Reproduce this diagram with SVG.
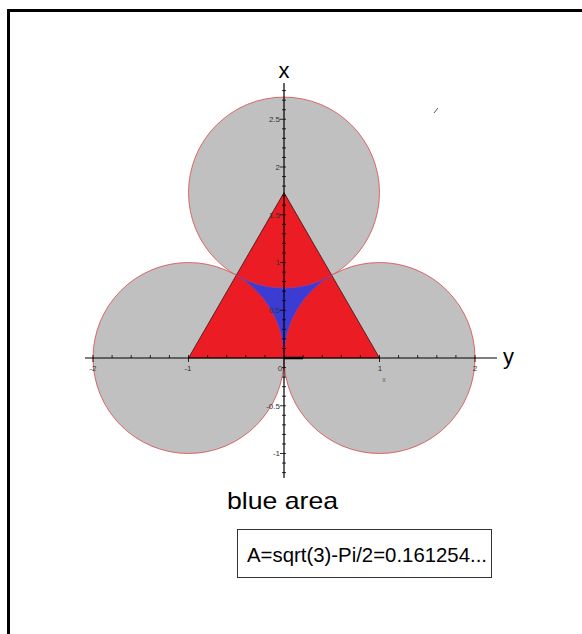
<svg xmlns="http://www.w3.org/2000/svg" width="582" height="634" viewBox="0 0 582 634">
<style>
.circ{fill:#c0c0c0;stroke:#d84a4a;stroke-width:0.8}
.axis{stroke:#000;stroke-width:1.2;fill:none}
.tick{stroke:#000;stroke-width:0.8;fill:none}
.tl{font-family:"Liberation Sans",Arial,sans-serif;font-size:8px;fill:#333}
.lab{font-family:"Liberation Sans",Arial,sans-serif;font-size:22px;fill:#000}
.cap{font-family:"Liberation Sans",Arial,sans-serif;font-size:21px;fill:#000}
.big{font-size:24px}
</style>
<rect width="582" height="634" fill="#fff"/>
<path d="M8.5 634 V10.5 H582" fill="none" stroke="#000" stroke-width="3"/>
<g id="circles">
<circle class="circ" cx="284" cy="192.59" r="95.5"/>
<circle class="circ" cx="188.5" cy="358" r="95.5"/>
<circle class="circ" cx="379.5" cy="358" r="95.5"/>
</g>
<g id="triangle">
<path d="M188.5 358 L379.5 358 L284 192.59 Z" fill="#ec1c24" stroke="#3a1010" stroke-width="0.8"/>
</g>
<g id="blue-region">
<path d="M236.25 275.3 A95.5 95.5 0 0 0 331.75 275.3 A95.5 95.5 0 0 0 284 358 A95.5 95.5 0 0 0 236.25 275.3 Z" fill="#3c3cd4" stroke="#9a3a8a" stroke-width="1"/>
</g>
<g id="axes">
<path class="axis" d="M85 358 H497 M284 83 V478"/>
<path d="M284 358 H303" stroke="#000" stroke-width="2.5"/>
<path class="tick" d="M282 472.6h4M282 463.05h4M280 453.5h6M282 443.95h4M282 434.4h4M282 424.85h4M282 415.3h4M280 405.75h6M282 396.2h4M282 386.65h4M282 377.1h4M282 367.55h4M282 348.45h4M282 338.9h4M282 329.35h4M282 319.8h4M280 310.25h6M282 300.7h4M282 291.15h4M282 281.6h4M282 272.05h4M280 262.5h6M282 252.95h4M282 243.4h4M282 233.85h4M282 224.3h4M280 214.75h6M282 205.2h4M282 195.65h4M282 186.1h4M282 176.55h4M280 167h6M282 157.45h4M282 147.9h4M282 138.35h4M282 128.8h4M280 119.25h6M282 109.7h4M282 100.15h4M282 90.6h4"/>
<path class="tick" d="M93 355v7M112.1 355v3M131.2 355v3M150.3 355v3M169.4 355v3M188.5 355v7M207.6 355v3M226.7 355v3M245.8 355v3M264.9 355v3M303.1 355v3M322.2 355v3M341.3 355v3M360.4 355v3M379.5 355v7M398.6 355v3M417.7 355v3M436.8 355v3M455.9 355v3M475 355v7"/>
<g class="tl" text-anchor="middle">
<text x="93" y="371">-2</text>
<text x="188" y="371">-1</text>
<text x="280" y="371">0</text>
<text x="380" y="371">1</text>
<text x="475" y="371">2</text>
</g>
<g class="tl" text-anchor="end">
<text x="280" y="122">2.5</text>
<text x="280" y="170">2</text>
<text x="280" y="218">1.5</text>
<text x="280" y="265">1</text>
<text x="280" y="313">0.5</text>
<text x="280" y="409">-0.5</text>
<text x="280" y="456">-1</text>
</g>
<text class="lab" x="284" y="78" text-anchor="middle">x</text>
<text class="lab" x="503" y="364">y</text>
<text x="384" y="382" font-family="Liberation Sans, Arial, sans-serif" font-size="7" fill="#666" text-anchor="middle">x</text>
<path d="M434 113 L438 108" stroke="#555" stroke-width="1"/>
</g>
<g id="caption">
<text class="cap big" x="227" y="509" textLength="111" lengthAdjust="spacingAndGlyphs">blue area</text>
<rect x="237.5" y="529.5" width="254" height="48" fill="#fff" stroke="#333" stroke-width="1"/>
<text class="cap" x="247" y="562" textLength="240" lengthAdjust="spacingAndGlyphs">A=sqrt(3)-Pi/2=0.161254...</text>
</g>
</svg>
